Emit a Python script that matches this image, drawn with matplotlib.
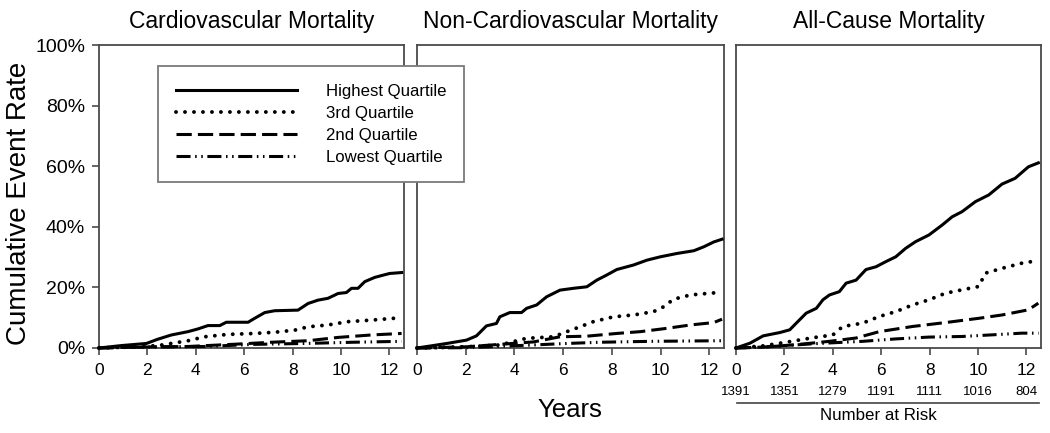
import matplotlib
matplotlib.use("Agg")
import matplotlib.pyplot as plt
import matplotlib.transforms as mtrans
from matplotlib.lines import Line2D

plt.rcParams['font.family'] = ['Liberation Sans', 'DejaVu Sans']

titles = ["Cardiovascular Mortality", "Non-Cardiovascular Mortality", "All-Cause Mortality"]
series_labels = ["Highest Quartile", "3rd Quartile", "2nd Quartile", "Lowest Quartile"]
x_ticks = [0, 2, 4, 6, 8, 10, 12]
y_ticks = [0, 20, 40, 60, 80, 100]
y_tick_labels = ["0%", "20%", "40%", "60%", "80%", "100%"]
risk_years = [0, 2, 4, 6, 8, 10, 12]
risk_counts = [1391, 1351, 1279, 1191, 1111, 1016, 804]

# Panel 1: Cardiovascular mortality (years, cumulative %)
cv_high_t = [0, 0.92, 1.96, 2.43, 2.99, 3.68, 4.09, 4.5, 4.99, 5.26, 6.16, 6.43, 6.85, 7.26, 8.22, 8.64, 9.05, 9.46, 9.88, 10.22, 10.43, 10.7, 10.98, 11.39, 11.67, 12.01, 12.5]
cv_high_y = [0, 0.8, 1.5, 2.9, 4.3, 5.4, 6.3, 7.4, 7.4, 8.5, 8.5, 9.8, 11.7, 12.3, 12.5, 14.7, 15.8, 16.4, 18.0, 18.3, 19.7, 19.7, 21.9, 23.3, 23.9, 24.6, 24.9]
cv_q3_t = [0, 1.0, 1.96, 2.6, 3.68, 4.36, 5.33, 6.43, 7.26, 8.09, 8.64, 9.46, 10.29, 11.25, 12.5]
cv_q3_y = [0, 0.3, 0.5, 1.0, 2.4, 3.7, 4.5, 4.8, 5.2, 5.9, 7.0, 7.6, 8.7, 9.2, 10.0]
cv_q2_t = [0, 1.5, 3.68, 5.74, 7.12, 8.64, 9.88, 11.25, 12.5]
cv_q2_y = [0, 0.3, 0.5, 1.3, 1.9, 2.4, 3.5, 4.3, 4.8]
cv_low_t = [0, 2.0, 4.36, 6.43, 8.5, 10.5, 12.5]
cv_low_y = [0, 0.3, 0.5, 1.2, 1.5, 1.9, 2.2]

# Panel 2: Non-cardiovascular mortality
ncv_high_t = [0, 0.66, 1.3, 2.03, 2.44, 2.85, 3.26, 3.4, 3.81, 4.29, 4.5, 4.91, 5.32, 5.87, 6.42, 6.97, 7.38, 7.79, 8.2, 8.89, 9.44, 9.99, 10.67, 11.36, 11.77, 12.18, 12.52]
ncv_high_y = [0, 0.8, 1.6, 2.6, 4.0, 7.3, 8.1, 10.3, 11.7, 11.7, 13.1, 14.2, 16.9, 19.1, 19.7, 20.2, 22.4, 24.1, 25.9, 27.4, 29.0, 30.1, 31.2, 32.1, 33.4, 35.0, 35.9]
ncv_q3_t = [0, 1.0, 2.03, 3.4, 4.5, 5.6, 6.15, 6.69, 7.24, 8.07, 8.89, 9.71, 10.12, 10.53, 11.22, 11.9, 12.52]
ncv_q3_y = [0, 0.2, 0.4, 1.0, 3.2, 3.7, 5.4, 7.0, 8.7, 10.3, 10.9, 12.0, 13.6, 16.1, 17.5, 18.0, 18.4]
ncv_q2_t = [0, 1.0, 2.03, 3.4, 4.77, 5.87, 6.97, 8.2, 9.17, 10.26, 11.22, 12.18, 12.52]
ncv_q2_y = [0, 0.2, 0.4, 1.2, 2.0, 3.7, 3.9, 4.8, 5.4, 6.5, 7.6, 8.4, 9.5]
ncv_low_t = [0, 2.03, 4.77, 6.15, 7.52, 9.58, 12.52]
ncv_low_y = [0, 0.1, 1.0, 1.5, 1.9, 2.2, 2.4]

# Panel 3: All-cause mortality
ac_high_t = [0, 0.58, 1.12, 1.81, 2.22, 2.49, 2.9, 3.32, 3.59, 3.86, 4.27, 4.55, 4.96, 5.37, 5.78, 6.19, 6.6, 7.01, 7.42, 7.97, 8.52, 8.93, 9.34, 9.89, 10.44, 10.99, 11.53, 12.08, 12.49]
ac_high_y = [0, 1.6, 4.0, 5.1, 6.0, 8.2, 11.5, 13.1, 15.9, 17.5, 18.6, 21.4, 22.4, 25.9, 26.8, 28.5, 30.1, 32.9, 35.1, 37.3, 40.6, 43.3, 45.0, 48.3, 50.5, 54.1, 56.0, 59.8, 61.1]
ac_q3_t = [0, 1.12, 2.22, 3.18, 4.0, 4.41, 5.23, 5.92, 6.6, 7.29, 7.97, 8.66, 9.34, 10.03, 10.3, 10.99, 11.81, 12.36, 12.5]
ac_q3_y = [0, 0.7, 2.1, 3.4, 4.3, 7.1, 8.2, 10.4, 12.0, 14.2, 15.9, 18.1, 19.2, 20.3, 24.7, 26.3, 28.0, 28.7, 28.7]
ac_q2_t = [0, 1.12, 2.49, 3.86, 4.96, 5.92, 7.29, 8.66, 10.03, 10.99, 12.08, 12.49]
ac_q2_y = [0, 0.3, 1.1, 2.2, 3.3, 5.4, 7.1, 8.4, 9.8, 10.9, 12.6, 14.8]
ac_low_t = [0, 1.12, 3.18, 5.23, 6.6, 7.97, 9.34, 10.71, 11.81, 12.5]
ac_low_y = [0, 0.3, 1.4, 2.2, 3.0, 3.6, 3.8, 4.4, 4.9, 4.9]

panels = [
    [(cv_high_t, cv_high_y), (cv_q3_t, cv_q3_y), (cv_q2_t, cv_q2_y), (cv_low_t, cv_low_y)],
    [(ncv_high_t, ncv_high_y), (ncv_q3_t, ncv_q3_y), (ncv_q2_t, ncv_q2_y), (ncv_low_t, ncv_low_y)],
    [(ac_high_t, ac_high_y), (ac_q3_t, ac_q3_y), (ac_q2_t, ac_q2_y), (ac_low_t, ac_low_y)],
]

styles = [
    dict(linestyle='-', linewidth=2.2),
    dict(linestyle=(0, (0.01, 2.3)), linewidth=2.8, dash_capstyle='round'),
    dict(linestyle=(0, (5.0, 2.0)), linewidth=2.2),
    dict(linestyle=(0, (4.6, 1.5, 0.5, 1.5, 0.5, 1.5)), linewidth=2.2),
]

W, H = 1050, 433
fig = plt.figure(figsize=(W / 100, H / 100), dpi=100)

ax_bounds = [(99, 404), (417, 724), (736, 1041)]
top_px, bot_px = 45, 348
spine_col = '#4a4a4a'
axes = []
for i, (l, r) in enumerate(ax_bounds):
    ax = fig.add_axes([l / W, 1 - bot_px / H, (r - l) / W, (bot_px - top_px) / H])
    axes.append(ax)
    for s in ax.spines.values():
        s.set_color(spine_col)
        s.set_linewidth(1.3)
    handles = []
    for (t, y), st in zip(panels[i], styles):
        h, = ax.plot(t, y, color='black', clip_on=False, zorder=3, **st)
        handles.append(h)
    ax.set_xlim(0, 12.6)
    ax.set_ylim(0, 100)
    ax.set_xticks(x_ticks)
    ax.set_xticklabels([str(v) for v in x_ticks], fontsize=12.5)
    ax.tick_params(axis='x', direction='out', length=5, width=1.2, color=spine_col, pad=6)
    if i == 0:
        ax.set_yticks(y_ticks)
        ax.set_yticklabels(y_tick_labels, fontsize=14)
        ax.tick_params(axis='y', direction='out', length=5, width=1.2, color=spine_col, pad=5)
        legend_handles = handles
    else:
        ax.set_yticks([])
    ax.set_title(titles[i], fontsize=16.5, pad=12)

# Legend
leg = fig.legend(legend_handles, series_labels, loc='upper left',
                 bbox_to_anchor=(158 / W, 1 - 66 / H), borderaxespad=0,
                 fontsize=12.1, handlelength=7.2, handletextpad=1.75,
                 labelspacing=0.42, borderpad=1.05, fancybox=False,
                 edgecolor='#7a7a7a', framealpha=1)
leg.get_frame().set_linewidth(1.3)

fig.text(19 / W, 1 - 203 / H, "Cumulative Event Rate", rotation=90,
         ha='center', va='center', fontsize=20)
fig.text(570 / W, 1 - 410 / H, "Years", ha='center', va='center', fontsize=18.5)

# Number at risk (under the All-Cause panel)
ax3 = axes[2]
blend = mtrans.blended_transform_factory(ax3.transData, fig.transFigure)
for yr, n in zip(risk_years, risk_counts):
    ax3.text(yr, 1 - 392 / H, str(n), transform=blend, ha='center', va='center',
             fontsize=9.5, clip_on=False)
fig.add_artist(Line2D([737 / W, 1039 / W], [1 - 403 / H, 1 - 403 / H],
                      color='#444444', linewidth=1.2))
fig.text(878 / W, 1 - 415 / H, "Number at Risk", ha='center', va='center', fontsize=12.2)

fig.savefig("out.png", dpi=100)
